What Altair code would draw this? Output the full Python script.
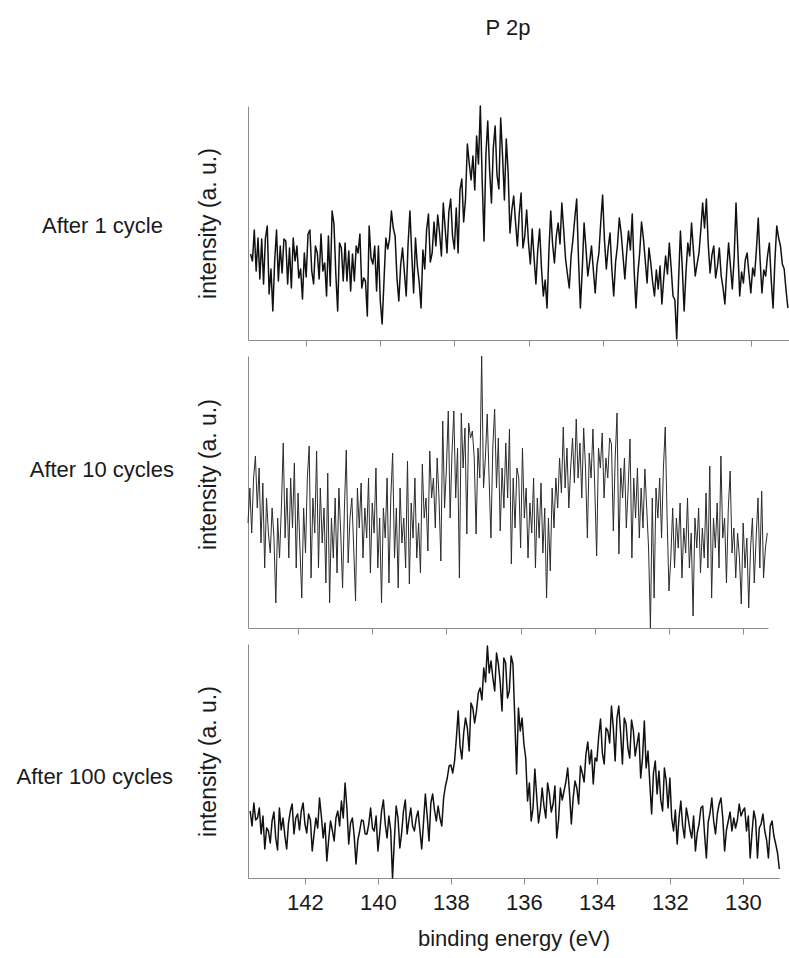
import altair as alt
import pandas as pd

# ---------------- data (heights, arbitrary units) ----------------
top_start, top_step = 143.5, 0.05
top_vals = [86, 79, 110, 69, 102, 61, 101, 56, 102, 114,
            46, 71, 29, 79, 110, 59, 94, 67, 101, 99,
            56, 92, 52, 102, 79, 94, 62, 71, 41, 87,
            63, 106, 110, 69, 56, 94, 87, 61, 106, 69,
            77, 44, 104, 54, 129, 116, 66, 29, 97, 92,
            59, 97, 59, 89, 49, 86, 59, 94, 87, 106,
            52, 62, 59, 24, 114, 82, 76, 94, 49, 94,
            39, 16, 59, 102, 91, 101, 129, 112, 104, 62,
            39,
            75, 92, 68, 44, 96, 129, 85, 47, 102, 74,
            58, 32, 90, 71, 110, 126, 78, 87, 118, 94,
            125, 107, 84, 137, 112, 87, 128, 141, 104, 91,
            132, 87, 150, 161, 118, 141, 196, 177, 160, 184,
            150, 204, 176, 234, 160, 99, 185, 219, 170, 137,
            192, 214, 165, 151, 222, 184, 140, 201, 168, 107,
            130, 144, 118, 94, 126, 147, 92, 104, 130, 97,
            76, 111, 82, 56, 90, 111, 72, 44, 60, 32,
            88, 129, 96, 77, 104, 117, 96, 137, 110, 81,
            66, 52, 84, 101, 122, 141, 80, 32, 70, 117,
            92, 64, 78, 94, 70, 47, 75, 87, 118, 145,
            100, 71, 92, 107, 70, 44, 78, 94, 122, 107,
            84, 61, 88, 109, 90, 126, 70, 32, 66, 87,
            118, 102, 80, 57, 92, 77, 58, 44, 70, 51,
            74, 36, 62, 84, 66, 97, 72, 44, 40, 1,
            60, 109, 72, 29, 68, 97, 84, 117, 90, 64,
            76, 87, 110, 137, 112, 141, 96, 67, 85, 94,
            62, 74, 92, 64, 52, 36, 70, 97, 74, 51,
            82, 137, 90, 44, 68, 57, 80, 87, 66, 47,
            72, 64, 90, 122, 80, 47, 70, 64, 84, 97,
            60, 32, 80, 114, 102, 94, 76, 71, 50, 32]

mid_start, mid_step = 143.35, 0.05
mid_vals = [105, 140, 95, 150, 172, 120, 160, 85, 145, 60, 130, 95, 75, 120, 90, 25, 110, 70, 120, 185,
            90, 140, 70, 150, 100, 165, 60, 135, 80, 30, 120, 75, 150, 182, 50, 130, 95, 177, 60, 140,
            85, 120, 45, 155, 25, 110, 70, 130, 55, 140, 95, 40, 120, 178, 65, 110, 130, 80, 27, 140,
            100, 145, 70, 120, 90, 150, 55, 125, 95, 160, 60, 110, 25, 120, 90, 150, 45, 130, 175, 70,
            120, 40, 140, 85, 110, 60, 167, 44, 125, 90, 150, 70, 105, 55, 164, 110, 130, 77, 177, 130,
            150, 100, 170, 130, 67, 207, 120, 160, 217, 110, 175, 217, 130, 180, 50, 215, 160, 200, 94, 205,
            190, 197, 170, 94, 180, 150, 272, 140, 170, 214, 150, 90, 180, 219, 140, 190, 97, 160, 120, 185, 130, 199,
            64, 150, 100, 160, 150, 80, 180, 110, 140, 70, 125, 95, 150, 60, 130, 90, 145, 75, 120, 30, 110, 57, 140, 100,
            150, 120, 170, 135, 201, 140, 180, 120, 160, 190, 145, 209, 150, 185, 130, 200, 160, 90, 175, 150,
            199, 140, 72, 180, 160, 195, 130, 170, 150, 190, 184, 97, 170, 215, 74, 160, 130,
            170, 100, 140, 189, 70, 150, 110, 160, 90, 140, 100, 159, 120, 80, 0, 130, 30, 140, 110, 150, 90, 160, 201, 110,
            37, 70, 120, 60, 110, 80, 125, 50, 100, 75, 130, 60, 95, 12, 110, 80, 120, 55, 100, 70,
            135, 60, 162, 30, 110, 80, 125, 60, 172, 90, 110, 45, 120, 157, 75, 100, 50, 95, 70, 24,
            105, 60, 90, 20, 80, 110, 45, 90, 130, 60, 137, 50, 80, 95]

bot_start, bot_step = 143.5, 0.05
bot_vals = [67, 52, 75, 58, 60, 70, 44, 62, 29, 50, 47, 35, 57, 66, 40, 28, 70, 48, 60, 42,
            29, 55, 67, 74, 44, 60, 64, 48, 67, 75, 54, 45, 64, 58, 27, 44, 60, 50, 80, 62,
            40, 55, 17, 38, 57, 48, 37, 60, 67, 52, 77, 60, 95, 70, 34, 55, 60, 42, 14, 38,
            47, 58, 57, 44, 44, 54, 70, 50, 47, 62, 27, 45, 67, 78, 54, 40, 62, 48, 0, 38,
            72, 60, 30, 45, 67, 78, 44, 58, 70, 52, 47, 60, 67, 48, 29, 56, 84, 62, 37, 75,
            84, 68, 57, 72, 60, 52, 80, 92, 100, 112, 113, 105, 117, 140, 167, 132, 119, 145, 160, 150,
            127, 175, 170, 155, 167, 185, 190, 178, 210, 196, 232, 205, 217, 200, 187, 225, 214, 196, 167, 220,
            215, 180, 187, 222, 214, 160, 104, 170, 147, 160, 134, 120, 77, 95, 57, 70, 109, 82, 55, 68,
            90, 72, 60, 95, 84, 66, 74, 92, 40, 58, 90, 78, 87, 96, 110, 85, 54, 80, 97, 90,
            74, 112, 105, 96, 124, 136, 114, 128, 94, 120, 117, 142, 159, 125, 114, 150, 147, 135, 172, 150,
            117, 160, 172, 145, 114, 160, 154, 130, 120, 158, 147, 122, 134, 145, 100, 120, 157, 110, 127, 95,
            64, 105, 117, 84, 107, 78, 67, 110, 97, 70, 100, 60, 47, 68, 34, 60, 77, 52, 40, 70,
            60, 48, 40, 62, 27, 45, 54, 70, 72, 44, 20, 56, 65, 80, 57, 44, 64, 74, 80, 60,
            27, 48, 57, 66, 47, 60, 50, 58, 74, 62, 67, 70, 47, 62, 20, 45, 67, 58, 20, 50,
            54, 64, 47, 38, 20, 52, 57, 42, 34, 25, 9]

row_labels = ["After 1 cycle", "After 10 cycles", "After 100 cycles"]
chart_title = "P 2p"
x_ticks = [142, 140, 138, 136, 134, 132, 130]
x_title = "binding energy (eV)"
y_title = "intensity (a. u.)"

FONT = "Liberation Sans"
TXT = "#1a1a1a"
AX = "#8c8c8c"


def frame(vals, start, step):
    return pd.DataFrame({"E": [round(start - step * i, 3) for i in range(len(vals))],
                         "I": vals})


def panel(vals, start, step, xdom, W, H, label, label_dx, label_y,
          bottom=False, title_y=None, stroke="#111111", sw=1.5, extra=None):
    xkw = dict(values=x_ticks, ticks=True, tickSize=6, tickColor=AX, tickWidth=1,
               domainColor=AX, domainWidth=1, grid=False, labels=bottom)
    if bottom:
        xkw.update(labelFontSize=22, labelFont=FONT, labelColor=TXT, labelPadding=8,
                   title=x_title, titleFontSize=22, titleFont=FONT, titleColor=TXT,
                   titleFontWeight="normal", titlePadding=15)
    else:
        xkw.update(title="")
    ykw = dict(ticks=False, labels=False, grid=False, domainColor=AX, domainWidth=1,
               title=y_title, titleFontSize=23, titleFont=FONT, titleColor=TXT,
               titleFontWeight="normal", titlePadding=28)
    if title_y is not None:
        ykw.update(titleY=title_y)

    line = alt.Chart(frame(vals, start, step)).mark_line(
        color=stroke, strokeWidth=sw, strokeJoin="round"
    ).encode(
        x=alt.X("E:Q", scale=alt.Scale(domain=xdom, reverse=True, nice=False, zero=False),
                axis=alt.Axis(**xkw)),
        y=alt.Y("I:Q", scale=alt.Scale(domain=[0, H], nice=False), axis=alt.Axis(**ykw)),
    )
    lab = alt.Chart(pd.DataFrame({"t": [label]})).mark_text(
        align="right", baseline="alphabetic", fontSize=22, font=FONT, color=TXT
    ).encode(x=alt.value(label_dx), y=alt.value(label_y), text="t:N")
    layers = [line, lab]
    if extra is not None:
        layers.append(extra)
    return alt.layer(*layers).properties(width=W, height=H)


title_layer = alt.Chart(pd.DataFrame({"t": [chart_title]})).mark_text(
    align="center", baseline="alphabetic", fontSize=22, font=FONT, color=TXT
).encode(x=alt.value(260), y=alt.value(-71), text="t:N")

top = panel(top_vals, top_start, top_step, [128.97, 143.57], 541, 234,
            row_labels[0], -85, 127, extra=title_layer)
mid = panel(mid_vals, mid_start, mid_step, [129.33, 143.35], 520, 272,
            row_labels[1], -74, 121, title_y=118, stroke="#2b2b2b", sw=1.0)
bot = panel(bot_vals, bot_start, bot_step, [129.01, 143.56], 531, 234,
            row_labels[2], -75, 140, bottom=True)

chart = alt.vconcat(top, mid, bot, spacing=16, bounds="flush").configure_view(
    stroke=None
).properties(
    padding={"left": 16, "top": 17, "right": 0, "bottom": 5},
    background="white",
)

chart.save("out.html", embed_options={"renderer": "svg", "actions": False})
